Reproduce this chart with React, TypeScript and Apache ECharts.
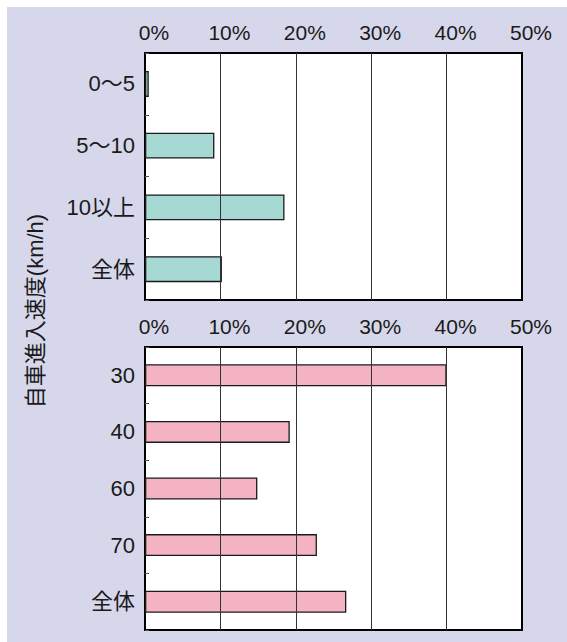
import React, { useEffect, useRef } from "react";
import * as echarts from "echarts";

const topCategories = ["0〜5", "5〜10", "10以上", "全体"];
const topValues = [0.5, 9.2, 18.5, 10.2];
const bottomCategories = ["30", "40", "60", "70", "全体"];
const bottomValues = [40.0, 19.2, 14.9, 22.8, 26.7];
const gridTicks = [10, 20, 30, 40];
const yTitle = "自車進入速度(km/h)";

const FONT = "'Liberation Sans', Arial, 'Noto Sans CJK JP', sans-serif";

export default function App() {
  const ref = useRef<HTMLDivElement>(null);
  useEffect(() => {
    if (!ref.current) return;
    const chart = echarts.init(ref.current, undefined, { renderer: "svg" });
    const xAxisBase = (gridIndex: number) => ({
      type: "value",
      gridIndex,
      position: "top",
      min: 0,
      max: 50,
      interval: 10,
      axisLine: { show: false },
      axisTick: { show: false },
      splitLine: { show: false },
      axisLabel: {
        formatter: "{value}%",
        fontSize: 21,
        color: "#1a1a1a",
        fontFamily: FONT,
        margin: 10,
        padding: [0, 0, 0, 18],
      },
    });
    const yAxisBase = (gridIndex: number, data: string[]) => ({
      type: "category",
      gridIndex,
      inverse: true,
      data,
      axisLine: { show: false },
      axisTick: { show: true, inside: true, length: 4, lineStyle: { color: "#555", width: 1 } },
      splitLine: { show: false },
      axisLabel: { fontSize: 22, color: "#1a1a1a", fontFamily: FONT, margin: 10 },
    });
    const markLine = {
      silent: true,
      symbol: "none",
      label: { show: false },
      lineStyle: { color: "#333", width: 1, type: "solid" },
      data: gridTicks.map((t) => ({ xAxis: t })),
    };
    chart.setOption({
      animation: false,
      backgroundColor: "#ffffff",
      graphic: [
        {
          type: "rect",
          shape: { x: 7, y: 7, width: 560, height: 635 },
          style: { fill: "#d6d7eb" },
          z: -10,
          silent: true,
        },
        {
          type: "text",
          x: 35,
          y: 311,
          rotation: Math.PI / 2,
          style: {
            text: yTitle,
            fontSize: 22,
            fill: "#1a1a1a",
            fontFamily: FONT,
            align: "center",
            verticalAlign: "middle",
          },
          z: 10,
        },
      ],
      grid: [
        {
          left: 145,
          top: 53,
          width: 377,
          height: 247,
          show: true,
          backgroundColor: "#ffffff",
          borderColor: "#000",
          borderWidth: 2,
        },
        {
          left: 145,
          top: 347,
          width: 377,
          height: 283,
          show: true,
          backgroundColor: "#ffffff",
          borderColor: "#000",
          borderWidth: 2,
        },
      ],
      xAxis: [xAxisBase(0), xAxisBase(1)],
      yAxis: [yAxisBase(0, topCategories), yAxisBase(1, bottomCategories)],
      series: [
        {
          type: "bar",
          xAxisIndex: 0,
          yAxisIndex: 0,
          data: topValues,
          barWidth: 26,
          itemStyle: { color: "#a6d8d4", borderColor: "#1a1a1a", borderWidth: 1.3 },
          emphasis: { disabled: true },
          markLine,
        },
        {
          type: "bar",
          xAxisIndex: 1,
          yAxisIndex: 1,
          data: bottomValues,
          barWidth: 22,
          itemStyle: { color: "#f4b3c2", borderColor: "#1a1a1a", borderWidth: 1.3 },
          emphasis: { disabled: true },
          markLine,
        },
      ],
    });
    return () => chart.dispose();
  }, []);
  return (
    <div
      ref={ref}
      style={{ position: "fixed", left: 0, top: 0, width: 567, height: 642 }}
    />
  );
}
